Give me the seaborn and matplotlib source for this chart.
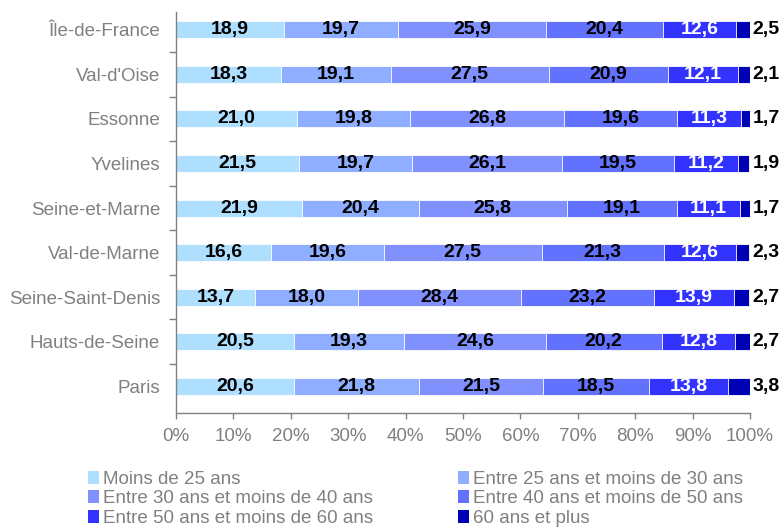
import numpy as np
import pandas as pd
import matplotlib
matplotlib.use("Agg")
import matplotlib.pyplot as plt
from matplotlib.patches import Patch
import seaborn as sns

# data ------------------------------------------------------------------------------------------
departements = ["Île-de-France", "Val-d'Oise", "Essonne", "Yvelines", "Seine-et-Marne",
                "Val-de-Marne", "Seine-Saint-Denis", "Hauts-de-Seine", "Paris"]
tranches = ["Moins de 25 ans", "Entre 25 ans et moins de 30 ans", "Entre 30 ans et moins de 40 ans",
            "Entre 40 ans et moins de 50 ans", "Entre 50 ans et moins de 60 ans", "60 ans et plus"]

moins_25 = [18.9, 18.3, 21.0, 21.5, 21.9, 16.6, 13.7, 20.5, 20.6]
de_25_30 = [19.7, 19.1, 19.8, 19.7, 20.4, 19.6, 18.0, 19.3, 21.8]
de_30_40 = [25.9, 27.5, 26.8, 26.1, 25.8, 27.5, 28.4, 24.6, 21.5]
de_40_50 = [20.4, 20.9, 19.6, 19.5, 19.1, 21.3, 23.2, 20.2, 18.5]
de_50_60 = [12.6, 12.1, 11.3, 11.2, 11.1, 12.6, 13.9, 12.8, 13.8]
plus_60 = [2.5, 2.1, 1.7, 1.9, 1.7, 2.3, 2.7, 2.7, 3.8]

couleurs = ["#afdfff", "#8faeff", "#8090ff", "#6272ff", "#3333ff", "#0000b4"]
couleurs_texte = ["black", "black", "black", "black", "white", "black"]

# long table with cumulated shares, so seaborn can draw the stack by overlapping
valeurs = np.array([moins_25, de_25_30, de_30_40, de_40_50, de_50_60, plus_60])
cumul = valeurs.cumsum(axis=0)
rows = []
for j, t in enumerate(tranches):
    for i, d in enumerate(departements):
        rows.append({"dep": d, "tranche": t, "part": valeurs[j, i], "cumul": cumul[j, i]})
df = pd.DataFrame(rows)

# plot ------------------------------------------------------------------------------------------
sns.set_style("white")
plt.rcParams["font.family"] = ["Liberation Sans", "DejaVu Sans"]
gris = "#808080"

fig = plt.figure(figsize=(7.84, 5.31), dpi=100)
ax = fig.add_axes([0.2245, 0.2222, 0.7321, 0.7552])

sns.barplot(data=df, x="cumul", y="dep", hue="tranche", order=departements,
            hue_order=tranches[::-1], palette=dict(zip(tranches, couleurs)), saturation=1,
            dodge=False, width=0.38, orient="h", edgecolor="white", linewidth=0.6,
            legend=False, ax=ax)

# segment labels
for i in range(len(departements)):
    for j in range(len(tranches)):
        txt = f"{valeurs[j, i]:.1f}".replace(".", ",")
        if j == len(tranches) - 1:
            ax.text(100.4, i, txt, ha="left", va="center", fontsize=14, fontweight="bold",
                    color="black", clip_on=False)
        else:
            xc = cumul[j, i] - valeurs[j, i] / 2
            ax.text(xc, i, txt, ha="center", va="center", fontsize=14, fontweight="bold",
                    color=couleurs_texte[j])

ax.set_xlim(0, 100)
ax.set_ylim(8.6, -0.4)
ax.set_xlabel("")
ax.set_ylabel("")

ax.set_xticks(np.arange(0, 101, 10))
ax.set_xticklabels([f"{v}%" for v in range(0, 101, 10)])
ax.set_yticks(range(len(departements)))
ax.set_yticklabels(departements)
ax.set_yticks(np.arange(0.5, 8, 1), minor=True)

ax.tick_params(axis="y", which="major", length=0, pad=11.5, labelsize=13.5, labelcolor=gris)
ax.tick_params(axis="y", which="minor", length=5, width=1, color=gris, left=True)
ax.tick_params(axis="x", length=4, width=1, color=gris, pad=7, labelsize=13.5,
               labelcolor=gris, bottom=True)

sns.despine(ax=ax)
for s in ["left", "bottom"]:
    ax.spines[s].set_color(gris)
    ax.spines[s].set_linewidth(1)

# legend filled row by row like the original (matplotlib fills by column)
ordre = [0, 2, 4, 1, 3, 5]
handles = [Patch(facecolor=couleurs[k], edgecolor="none") for k in ordre]
fig.legend(handles, [tranches[k] for k in ordre], ncol=2, loc="upper left",
           bbox_to_anchor=(0.112, 0.113), frameon=False, fontsize=13.5, labelcolor=gris,
           handlelength=0.6, handleheight=0.7, handletextpad=0.2, columnspacing=4.55,
           labelspacing=0.12, borderpad=0, borderaxespad=0)

fig.savefig("out.png", dpi=100)
